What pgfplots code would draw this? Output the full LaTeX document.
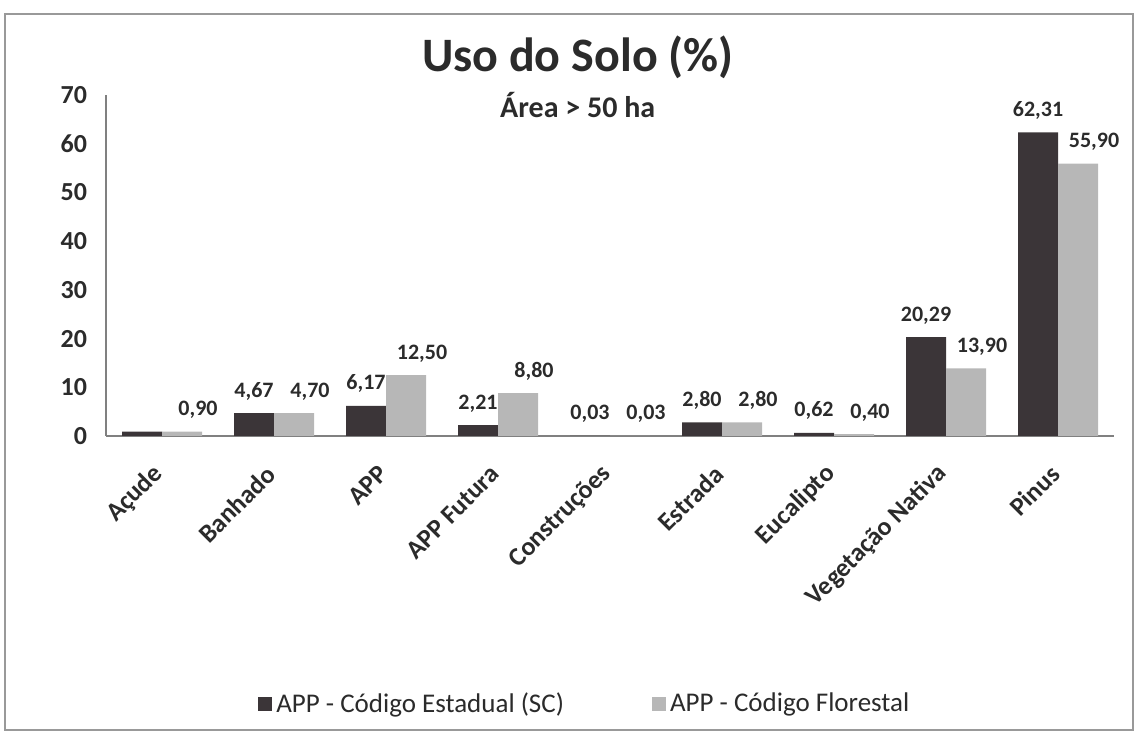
\documentclass[border=0pt]{standalone}
\usepackage{pgfplots}
\pgfplotsset{compat=1.18}
\usepackage{fontspec}
\setmainfont{Carlito}
\definecolor{barDark}{HTML}{3B3538}
\definecolor{barLight}{HTML}{B7B7B7}
\definecolor{txt}{HTML}{2B2B2B}

\begin{document}
\begin{tikzpicture}[x=1pt,y=1pt]
\path[use as bounding box] (0,0) rectangle (569.5,366);
\draw[gray!80, line width=0.8pt] (2.5,1) rectangle (566.5,359);
\begin{axis}[
  at={(53pt,148pt)}, anchor=south west,
  scale only axis, width=504pt, height=170.5pt,
  clip=false,
  ybar=0pt, bar width=20pt,
  xmin=-0.5, xmax=8.5, ymin=0, ymax=70,
  xtick={0,...,8},
  xticklabels={Açude,Banhado,APP,APP Futura,Construções,Estrada,Eucalipto,Vegetação Nativa,Pinus},
  ytick={0,10,...,70},
  axis x line*=bottom, axis y line*=left,
  axis line style={gray, -, line width=0.8pt},
  major tick length=0pt,
  /pgf/number format/assume math mode=true,
  xticklabel style={xshift=1pt, yshift=-14.5pt, rotate=45, anchor=east, text=txt,
    font=\bfseries\fontsize{13}{15}\selectfont},
  yticklabel style={xshift=-6pt, text=txt,
    font=\bfseries\fontsize{13}{15}\selectfont},
  point meta=explicit symbolic,
  nodes near coords={\pgfplotspointmeta},
  every node near coord/.append style={text=txt, yshift=3pt,
    font=\bfseries\fontsize{11}{13}\selectfont},
  legend style={at={(0.476,-0.786)}, anchor=center, draw=none,
    font=\fontsize{13.5}{15}\selectfont, text=txt,
    /tikz/every even column/.append style={column sep=42pt}},
  legend columns=2,
  legend image code/.code={\fill[#1] (0pt,-3.5pt) rectangle (7pt,3.5pt);},
]
\addplot[fill=barDark, draw=none] coordinates {
  (0,0.90) []
  (1,4.67) [4,67]
  (2,6.17) [6,17]
  (3,2.21) [2,21]
  (4,0.03) [0,03]
  (5,2.80) [2,80]
  (6,0.62) [0,62]
  (7,20.29) [20,29]
  (8,62.31) [62,31]
};
\addplot[fill=barLight, draw=none,
  every node near coord/.append style={xshift=8pt}] coordinates {
  (0,0.90) [0,90]
  (1,4.70) [4,70]
  (2,12.50) [12,50]
  (3,8.80) [8,80]
  (4,0.03) [0,03]
  (5,2.80) [2,80]
  (6,0.40) [0,40]
  (7,13.90) [13,90]
  (8,55.90) [55,90]
};
\legend{APP - Código Estadual (SC), APP - Código Florestal}
\node[font=\bfseries\fontsize{24}{28}\selectfont, text=txt] at (axis description cs:0.468,1.111) {Uso do Solo (\%)};
\node[font=\bfseries\fontsize{15}{17}\selectfont, text=txt] at (axis description cs:0.468,0.97) {Área > 50 ha};
\end{axis}
\end{tikzpicture}
\end{document}
